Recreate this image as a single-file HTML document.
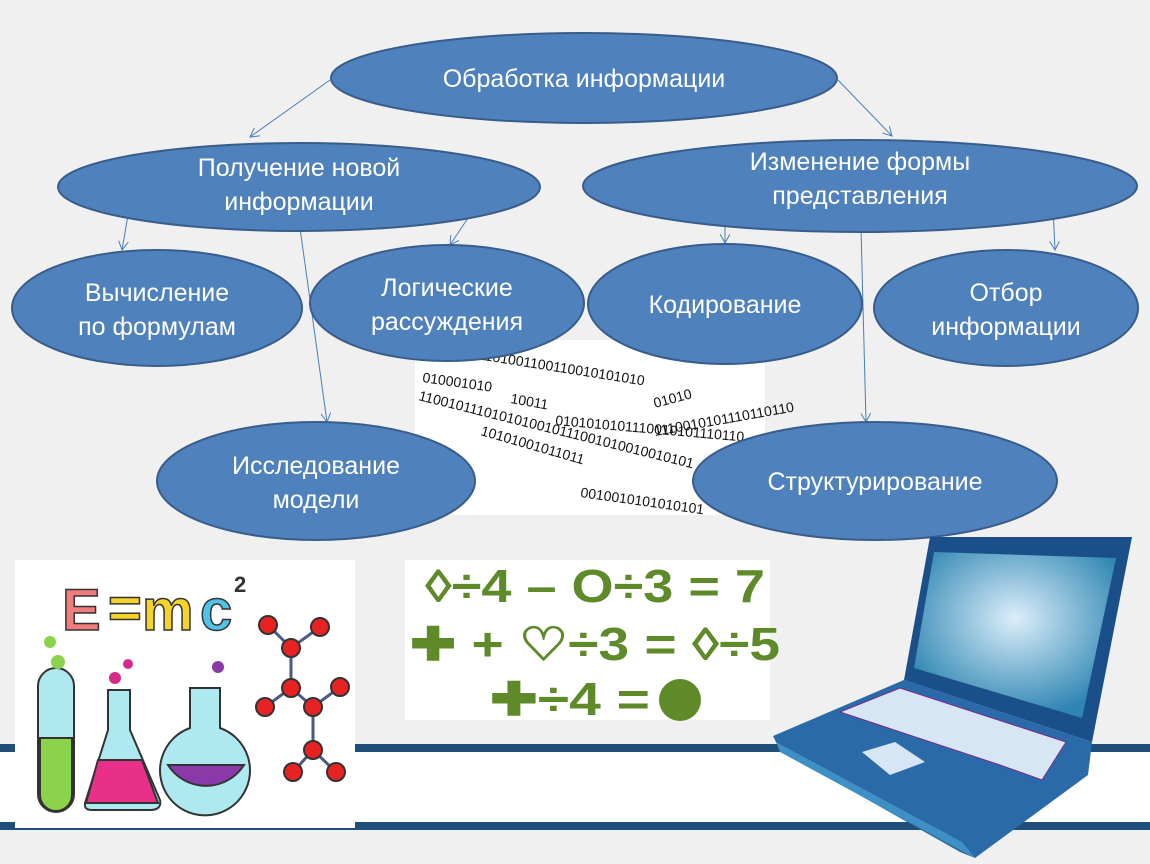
<!DOCTYPE html>
<html><head><meta charset="utf-8"><style>
html,body{margin:0;padding:0;width:1150px;height:864px;overflow:hidden;background:#f0f0f0}
svg{display:block}
.t{font-family:"Liberation Sans",sans-serif;font-size:25px;fill:#fff;text-anchor:middle}
.b{font-family:"Liberation Sans",sans-serif;font-size:14px;fill:#111}
</style></head><body>
<svg width="1150" height="864" viewBox="0 0 1150 864">
<defs>
<marker id="a" markerWidth="10" markerHeight="10" refX="9" refY="5" orient="auto" markerUnits="userSpaceOnUse"><path d="M0,0 L9,5 L0,10" fill="none" stroke="#4a7ebb" stroke-width="1"/></marker>
<radialGradient id="scr" cx="0.5" cy="0.4" r="0.6"><stop offset="0" stop-color="#dceefa"/><stop offset="1" stop-color="#2f86b3"/></radialGradient>
</defs>
<rect width="1150" height="864" fill="#f0f0f0"/>
<rect x="0" y="744" width="1150" height="8" fill="#1f4e79"/>
<rect x="0" y="752" width="1150" height="70" fill="#fff"/>
<rect x="0" y="822" width="1150" height="8" fill="#1f4e79"/>
<rect x="415" y="340" width="350" height="175" fill="#fff"/>
<g class="b">
<text x="422" y="382" transform="rotate(8 422 382)">010001010</text>
<text x="418" y="400" transform="rotate(14 418 400)">1100101110101010010111001010010010101</text>
<text x="480" y="435" transform="rotate(16 480 435)">10101001011011</text>
<text x="470" y="358" transform="rotate(9 470 358)">01101001100110010101010</text>
<text x="510" y="403" transform="rotate(10 510 403)">10011</text>
<text x="555" y="425" transform="rotate(5 555 425)">0101010101110010101110110</text>
<text x="655" y="408" transform="rotate(-15 655 408)">01010</text>
<text x="655" y="436" transform="rotate(-10 655 436)">1110010101110110110</text>
<text x="580" y="497" transform="rotate(8 580 497)">0010010101010101</text>
</g>
<g stroke="#4a7ebb" stroke-width="1" fill="none" marker-end="url(#a)">
<line x1="330" y1="80" x2="250" y2="137"/>
<line x1="838" y1="80" x2="892" y2="136"/>
<line x1="128" y1="215" x2="122" y2="250"/>
<line x1="468" y1="218" x2="450" y2="245"/>
<line x1="300" y1="228" x2="327" y2="422"/>
<line x1="725" y1="210" x2="725" y2="243"/>
<line x1="1053" y1="207" x2="1055" y2="250"/>
<line x1="860" y1="190" x2="866" y2="422"/>
</g>
<g fill="#4f81bd" stroke="#385d8a" stroke-width="2">
<ellipse cx="584" cy="78" rx="253" ry="45"/>
<ellipse cx="299" cy="187" rx="241" ry="44"/>
<ellipse cx="860" cy="186" rx="277" ry="46"/>
<ellipse cx="157" cy="308" rx="145" ry="58"/>
<ellipse cx="447" cy="303" rx="137" ry="58"/>
<ellipse cx="725" cy="304" rx="137" ry="60"/>
<ellipse cx="1006" cy="308" rx="132" ry="58"/>
<ellipse cx="316" cy="481" rx="159" ry="59"/>
<ellipse cx="875" cy="481" rx="182" ry="59"/>
</g>
<g class="t">
<text x="584" y="87">Обработка информации</text>
<text x="299" y="176">Получение новой</text><text x="299" y="210">информации</text>
<text x="860" y="170">Изменение формы</text><text x="860" y="204">представления</text>
<text x="157" y="301">Вычисление</text><text x="157" y="335">по формулам</text>
<text x="447" y="296">Логические</text><text x="447" y="330">рассуждения</text>
<text x="725" y="313">Кодирование</text>
<text x="1006" y="301">Отбор</text><text x="1006" y="335">информации</text>
<text x="316" y="474">Исследование</text><text x="316" y="508">модели</text>
<text x="875" y="490">Структурирование</text>
</g>
<rect x="15" y="560" width="340" height="268" fill="#fff"/>
<g font-family="Liberation Sans,sans-serif" font-weight="bold" font-size="58">
<text x="62" y="630" fill="#f07c7c" stroke="#333" stroke-width="1.5">E</text>
<text x="108" y="628" fill="#f5d327" stroke="#333" stroke-width="1.5">=</text>
<text x="142" y="630" fill="#f5d327" stroke="#333" stroke-width="1.5">m</text>
<text x="200" y="630" fill="#4fc3e8" stroke="#333" stroke-width="1.5">c</text>
<text x="234" y="592" font-size="22" fill="#333">2</text>
</g>
<g stroke="#4a5a8a" stroke-width="3">
<line x1="268" y1="625" x2="291" y2="648"/><line x1="320" y1="627" x2="291" y2="648"/>
<line x1="291" y1="648" x2="291" y2="688"/><line x1="291" y1="688" x2="265" y2="707"/>
<line x1="291" y1="688" x2="313" y2="707"/><line x1="313" y1="707" x2="340" y2="687"/>
<line x1="313" y1="707" x2="313" y2="750"/><line x1="313" y1="750" x2="293" y2="772"/><line x1="313" y1="750" x2="336" y2="772"/>
</g>
<g stroke="#333" stroke-width="2">
<rect x="38" y="668" width="36" height="144" rx="18" fill="#aee9ef"/>
<path d="M40 738 H72 V795 A16 16 0 0 1 40 795 Z" fill="#8bd34a"/>
<path d="M108 690 H130 V730 L160 800 Q162 810 150 810 H92 Q82 810 86 800 L108 730 Z" fill="#aee9ef"/>
<path d="M98 760 H142 L158 803 H86 Z" fill="#e8308a"/>
<path d="M190 688 H220 V728 A45 45 0 1 1 190 728 Z" fill="#aee9ef"/>
<path d="M168 765 H244 A45 45 0 0 1 168 765 Z" fill="#8a3aa8"/>
<g fill="#e82222">
<circle cx="268" cy="625" r="9"/><circle cx="320" cy="627" r="9"/><circle cx="291" cy="648" r="9"/>
<circle cx="291" cy="688" r="9"/><circle cx="265" cy="707" r="9"/><circle cx="313" cy="707" r="9"/>
<circle cx="340" cy="687" r="9"/><circle cx="313" cy="750" r="9"/><circle cx="293" cy="772" r="9"/><circle cx="336" cy="772" r="9"/>
</g>
</g>
<g fill="#8bd34a"><circle cx="50" cy="642" r="6"/><circle cx="58" cy="662" r="7"/></g>
<g fill="#d42a8a"><circle cx="115" cy="678" r="6"/><circle cx="128" cy="664" r="5"/></g>
<circle cx="218" cy="667" r="6" fill="#8a3aa8"/>
<rect x="405" y="560" width="365" height="160" fill="#fff"/>
<g font-family="Liberation Sans,sans-serif" font-weight="bold" font-size="46" fill="#5e8a2a">
<text x="425" y="602" textLength="340" lengthAdjust="spacingAndGlyphs">◊÷4 – O÷3 = 7</text>
<text x="410" y="660" textLength="370" lengthAdjust="spacingAndGlyphs">✚ + ♡÷3 = ◊÷5</text>
<text x="490" y="715" textLength="160" lengthAdjust="spacingAndGlyphs">✚÷4 =</text>
</g>
<circle cx="680" cy="700" r="21" fill="#5e8a2a"/>
<polygon points="930,537 1132,537 1092,742 904,680" fill="#1b4f8a"/>
<polygon points="934,552 1116,558 1082,718 914,668" fill="url(#scr)"/>
<polygon points="773,736 904,680 1092,742 1088,775 975,858 960,852 780,750" fill="#2a6aa8"/>
<polygon points="776,742 962,842 975,858 780,752" fill="#3d8fc4"/>
<polygon points="840,712 900,688 1066,742 1042,780 1000,765" fill="#d6e6f4" stroke="#7a2a8a" stroke-width="1"/>
<polygon points="862,752 895,742 925,762 890,775" fill="#d6e6f4"/>
</svg>
</body></html>
